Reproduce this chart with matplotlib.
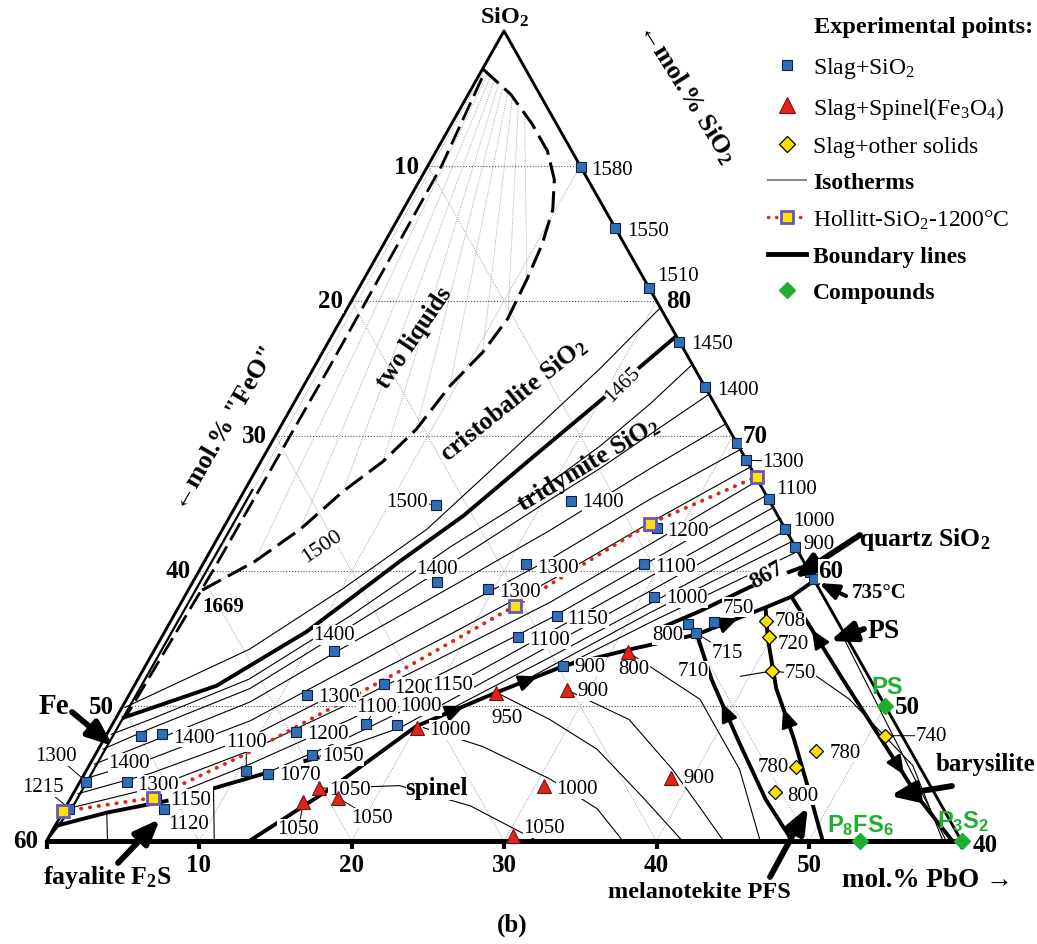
import numpy as np
import matplotlib.pyplot as plt
from matplotlib.lines import Line2D

plt.rcParams['font.family'] = 'Liberation Serif'
plt.rcParams['mathtext.fontset'] = 'custom'
plt.rcParams['mathtext.rm'] = 'Liberation Serif'
plt.rcParams['mathtext.it'] = 'Liberation Serif:italic'
plt.rcParams['mathtext.bf'] = 'Liberation Serif:bold'
plt.rcParams['mathtext.sf'] = 'Liberation Sans:bold'

# compositions are (mol.% PbO, mol.% SiO2); "FeO" is the balance

# --- experimental points ---
sio2_pts = [(10.1, 89.9), (14.6, 85.4), (19.0, 81.0), (23.0, 77.0), (26.4, 73.6),
            (30.5, 69.5), (31.8, 68.2), (34.7, 65.3), (36.9, 63.1), (38.2, 61.8),
            (40.1, 59.9), (40.6, 59.4), (13.1, 64.9), (21.8, 65.2), (28.4, 63.2),
            (21.2, 60.5), (28.9, 60.5), (16.0, 59.2), (19.6, 58.7), (30.8, 58.1),
            (25.1, 56.7), (23.4, 55.1), (27.4, 53.0), (34.0, 56.1), (35.7, 56.2),
            (34.9, 55.4), (11.8, 54.1), (11.7, 50.8), (16.3, 51.6), (12.3, 48.1),
            (16.6, 48.7), (18.7, 48.6), (14.2, 46.4), (12.0, 45.0), (10.5, 45.2),
            (2.3, 47.8), (3.6, 47.9), (0.4, 44.4), (3.1, 44.4), (0.3, 42.4),
            (5.6, 43.1), (6.5, 42.4)]
sio2_temps = ['1580', '1550', '1510', '1450', '1400', '', '1300', '1100', '1000', '900',
              '', '', '1500', '1400', '1200', '1300', '1100', '1400', '1300', '1000',
              '1150', '1100', '900', '800', '750', '715', '1400', '1300', '1200', '1200',
              '1100', '1000', '1050', '1070', '1100', '', '1400', '1300', '1300', '1215',
              '1150', '1120']

spinel_pts = [(31.1, 54.0), (28.5, 51.2), (24.0, 51.0), (20.1, 48.4), (15.9, 43.9),
              (17.5, 43.2), (15.4, 42.9), (30.6, 44.1), (38.6, 44.7), (30.4, 40.4)]
spinel_temps = ['800', '900', '950', '1000', '1050', '1050', '1050', '1000', '900', '1050']

other_pts = [(39.0, 56.3), (39.8, 55.1), (41.3, 52.6), (51.1, 47.8), (47.1, 46.7),
             (46.4, 45.5), (46.0, 43.6)]
other_temps = ['708', '720', '750', '740', '780', '780', '800']

hollitt_pts = [(0.0, 42.2), (5.4, 43.2), (22.0, 57.4), (27.8, 63.5), (33.1, 67.0)]
hollitt_line = [(0.0, 42.2), (5.4, 43.2), (9.8, 46.4), (13.7, 49.8), (16.9, 52.6),
                (22.0, 57.4), (27.8, 63.5), (33.1, 67.0)]

compounds = [(50.0, 50.0), (53.33, 40.0), (60.0, 40.0)]
compound_names = ['PS', 'P$_\\mathsf{8}$FS$_\\mathsf{6}$', 'P$_\\mathsf{3}$S$_\\mathsf{2}$']

# --- boundary lines ---
fe_line = [(0.0, 40.0), (0.45, 42.5), (0.5, 66.0)]
trid_cris = [(0.4, 49.1), (5.4, 51.5), (9.3, 55.5), (12.8, 60.7), (15.3, 64.1),
             (17.6, 68.3), (20.0, 72.6), (22.6, 77.4)]
fayalite_bd = [(0.0, 41.1), (2.9, 42.1), (6.5, 43.0)]
bd_1070 = [(9.0, 43.9), (12.3, 45.2)]
bd_1050 = [(13.9, 45.9), (14.8, 46.2)]
spinel_bd = [(13.3, 40.0), (16.7, 43.9), (20.0, 48.5), (24.0, 51.0), (27.5, 53.0),
             (31.2, 54.2), (35.0, 55.3), (38.5, 57.3), (39.8, 58.1), (40.7, 59.3)]
quartz_bd = [(32.1, 55.6), (34.3, 57.0), (36.7, 58.8), (39.6, 60.4)]
pfs_left = [(35.0, 55.3), (37.6, 52.0), (41.5, 47.6), (45.6, 43.1), (48.9, 40.0)]
pfs_right = [(38.5, 57.3), (39.8, 55.0), (42.2, 51.3), (45.2, 47.6), (48.0, 43.9), (50.9, 40.0)]
ps_bd = [(39.8, 58.1), (46.2, 52.0), (50.9, 47.6), (55.7, 43.1), (59.4, 40.0)]

# two-liquid miscibility gap (dashed)
gap_outer = [(0.0, 97.2), (2.8, 95.3), (5.3, 93.1), (7.3, 91.1), (8.8, 89.0), (9.8, 86.8),
             (10.4, 84.2), (10.7, 81.6), (10.9, 78.7), (10.5, 76.2), (9.6, 73.7),
             (9.0, 70.5), (8.0, 68.1), (6.5, 65.9), (5.1, 63.1), (3.3, 60.7), (0.6, 58.3)]
gap_inner = [(0.3, 96.5), (0.9, 90.0), (1.0, 75.0), (0.9, 60.0), (0.6, 49.3)]
tie_top = [(0.2, 97.0), (0.5, 96.8), (0.8, 96.6), (1.2, 96.4), (1.6, 96.1),
           (2.0, 95.8), (2.5, 95.5), (3.0, 95.1), (3.6, 94.7), (4.3, 94.1)]
tie_bottom = [(0.6, 60.9), (3.3, 60.7), (5.1, 63.1), (6.5, 65.9), (8.0, 68.1),
              (9.0, 70.5), (9.6, 73.7), (10.5, 76.2), (10.9, 78.7), (10.7, 81.6)]

# --- isotherms ---
isotherms = [
    [(0.2, 49.9), (6.2, 54.2), (10.1, 58.7), (13.4, 63.1), (16.3, 69.4), (18.8, 75.0), (20.5, 79.5)],
    [(0.3, 47.9), (2.3, 49.0), (7.3, 52.0), (11.6, 56.7), (15.6, 61.8), (19.0, 65.5), (21.7, 69.3), (23.4, 72.4), (24.7, 75.3)],
    [(0.3, 46.8), (2.6, 48.3), (7.7, 51.3), (12.0, 55.9), (16.2, 60.5), (20.4, 65.3), (22.5, 67.6), (24.5, 70.1), (26.9, 73.1)],
    [(0.3, 45.7), (3.1, 47.3), (8.2, 50.3), (12.6, 54.6), (17.1, 58.8), (21.5, 63.0), (25.8, 67.6), (29.1, 70.9)],
    [(0.2, 44.6), (3.8, 46.1), (8.9, 48.9), (13.5, 52.9), (18.0, 56.9), (22.6, 60.9), (26.9, 65.3), (31.0, 69.0)],
    [(0.3, 43.5), (4.3, 45.0), (9.5, 47.7), (14.2, 51.5), (18.8, 55.3), (23.4, 59.3), (27.8, 63.6), (32.3, 67.7)],
    [(0.2, 42.4), (4.9, 43.9), (10.0, 46.7), (14.8, 50.2), (19.5, 53.9), (24.2, 57.7), (28.6, 62.0), (33.3, 66.7)],
    [(6.7, 43.5), (10.5, 45.7), (15.4, 49.0), (20.1, 52.7), (24.8, 56.5), (29.2, 60.7), (34.4, 65.6)],
    [(12.3, 45.3), (16.0, 47.7), (20.8, 51.4), (25.3, 55.5), (29.8, 59.6), (35.3, 64.7)],
    [(14.8, 46.3), (19.0, 48.4), (25.8, 54.5), (30.3, 58.5), (36.2, 63.9)],
    [(19.7, 48.1), (22.0, 50.1), (26.2, 53.6), (30.8, 57.6), (37.0, 63.0)],
    [(25.2, 51.7), (31.1, 56.9), (37.8, 62.2)],
    [(27.5, 53.0), (31.5, 56.2), (38.6, 61.5)],
    # spinel field
    [(15.9, 43.9), (21.1, 44.1), (26.5, 42.6), (32.2, 40.0)],
    [(20.5, 48.4), (25.1, 47.0), (30.7, 44.6), (34.9, 42.4), (37.8, 40.0)],
    [(24.0, 51.0), (28.5, 49.0), (32.7, 46.8), (37.4, 43.3), (41.7, 40.0)],
    [(28.5, 51.2), (33.7, 49.0), (38.4, 45.3), (41.7, 42.4), (44.4, 40.0)],
    [(31.3, 53.9), (37.6, 50.5), (42.8, 45.3), (46.8, 40.0)],
    # PbO-rich side and fayalite field
    [(39.4, 52.2), (41.3, 52.6), (44.4, 52.2), (47.4, 50.5), (50.9, 47.9), (54.0, 45.6), (58.7, 40.1)],
    [(44.6, 55.2), (59.0, 40.0)],
    [(2.9, 42.1), (4.0, 40.0)],
    [(9.0, 43.9), (11.0, 40.0)],
]

ticks = [10, 20, 30, 40, 50]

W, H = 1037, 945
BLUE, RED, YEL, GRN = '#2e6fb7', '#e0241a', '#ffe100', '#1fae2f'
TSIZE = 15


def tern(pbo, sio2):
    pbo = np.asarray(pbo, float)
    sio2 = np.asarray(sio2, float)
    return pbo + (sio2 - 40) / 2, sio2 - 40


def line(pts, **kw):
    p, s = zip(*pts)
    x, y = tern(p, s)
    ax.plot(x, y, **kw)


def fp(px, py):
    return (px, H - py)


def ftext(px, py, s, **kw):
    kw.setdefault('ha', 'center')
    kw.setdefault('va', 'center')
    fig.text(px / W, 1 - py / H, s, **kw)


def tlabel(pt, txt, dx, dy, ha='left', leader=False, size=TSIZE, z=6, **kw):
    x, y = tern(*pt)
    arrow = dict(arrowstyle='-', lw=0.7, color='k', shrinkA=0, shrinkB=4) if leader else None
    ax.annotate(txt, (x, y), xytext=(dx, dy), textcoords='offset pixels', ha=ha,
                va='center', fontsize=size, zorder=z, arrowprops=arrow,
                bbox=dict(fc='white', ec='none', pad=0.3), **kw)


def big_arrow(tail, head, lw=4.2, scale=20):
    ax.annotate('', xy=fp(*head), xytext=fp(*tail), xycoords='figure pixels',
                textcoords='figure pixels', zorder=8,
                arrowprops=dict(arrowstyle='-|>,head_length=0.75,head_width=0.3',
                                lw=lw, color='k', mutation_scale=scale, shrinkA=0, shrinkB=0))


def dir_arrow(pts, i, reverse=False):
    a, b = np.array(pts[i]), np.array(pts[i + 1])
    if reverse:
        a, b = b, a
    p0 = a + 0.45 * (b - a)
    p1 = a + 0.6 * (b - a)
    ax.annotate('', xy=tern(*p1), xytext=tern(*p0), zorder=5,
                arrowprops=dict(arrowstyle='-|>,head_length=0.8,head_width=0.35',
                                lw=2, color='k', mutation_scale=14, shrinkA=0, shrinkB=0))


fig = plt.figure(figsize=(W / 100, H / 100), dpi=100)
ax = fig.add_axes([0, 0, 1, 1])
ax.set_xlim(-46.5 / 15.25, (W - 46.5) / 15.25)
ax.set_ylim(-(H - 842) / 13.5, 842 / 13.5)
ax.axis('off')

# grid
for s in [50, 60, 70, 80, 90]:
    line([(0, s), (100 - s, s)], color='#555555', lw=0.8, ls=(0, (1, 1.6)), zorder=1)
for t in ticks:
    line([(t, 40), (t, 100 - t)], color='#a0a0a0', lw=0.7, ls=(0, (1, 1.3)), zorder=1)
    line([(60 - t, 40), (0, 100 - t)], color='#a0a0a0', lw=0.7, ls=(0, (1, 1.3)), zorder=1)
for a, b in zip(tie_top, tie_bottom):
    line([a, b], color='#909090', lw=0.6, ls=(0, (1, 1.5)), zorder=1)

# isotherms
for iso in isotherms:
    line(iso, color='k', lw=0.8, zorder=2)

# boundaries
for bd in [trid_cris, fayalite_bd, bd_1070, bd_1050, spinel_bd, quartz_bd,
           pfs_left, pfs_right, ps_bd]:
    line(bd, color='k', lw=2.8, zorder=3, solid_capstyle='butt')
line(fe_line, color='k', lw=1.6, zorder=3)
line(gap_outer, color='k', lw=2.2, ls=(0, (7, 2.6)), zorder=3)
line(gap_inner, color='k', lw=2.0, ls=(0, (7, 2.6)), zorder=3)

dir_arrow(spinel_bd, 2)
dir_arrow(spinel_bd, 3)
dir_arrow(spinel_bd, 6)
dir_arrow(pfs_left, 1, reverse=True)
dir_arrow(pfs_right, 2, reverse=True)
dir_arrow(ps_bd, 0, reverse=True)
dir_arrow(ps_bd, 2)

# triangle edges
line([(0, 40), (0, 100), (60, 40)], color='k', lw=2.1, zorder=4)
line([(0, 40), (60, 40)], color='k', lw=3.6, zorder=4, solid_capstyle='butt')
for t in [0] + ticks + [60]:
    x, y = tern(t, 40)
    ax.plot([x, x], [y, y - 0.6], color='k', lw=3, zorder=4, solid_capstyle='butt')

# Hollitt line
line(hollitt_line, color='#d42a20', lw=2.8, ls=(0, (0.1, 2.2)), dash_capstyle='round', zorder=4)

# temperature labels
sio2_offsets = [(10, -2, 'left'), (12, -2, 'left'), (8, 12, 'left'), (12, -2, 'left'),
                (12, -2, 'left'), None, (16, -1, 'left'), (8, 11, 'left'), (8, 9, 'left'),
                (8, 3, 'left'), None, None, (-8, 3, 'right'), (11, -1, 'left'),
                (11, -3, 'left'), (11, -3, 'left'), (12, -2, 'left'), (0, 13, 'center'),
                (11, -3, 'left'), (12, -1, 'left'), (11, -3, 'left'), (11, -2, 'left'),
                (11, -1, 'left'), (-4, -11, 'right'), (8, 15, 'left'), (15, -19, 'left'),
                (0, 16, 'center'), (11, -1, 'left'), (11, -3, 'left'), (11, -2, 'left'),
                (11, 17, 'center'), (24, 19, 'center'), (10, -1, 'left'), (12, -1, 'left'),
                (0, 29, 'center'), None, (12, -3, 'left'), (-9, 26, 'right'),
                (10, -3, 'left'), (-6, 22, 'right'), (15, 0, 'left'), (4, -15, 'left')]
sio2_leaders = {6, 12, 25, 30, 34, 37, 39}
for i, (pt, t, off) in enumerate(zip(sio2_pts, sio2_temps, sio2_offsets)):
    if t:
        tlabel(pt, t, off[0], off[1], off[2], leader=i in sio2_leaders)

spinel_offsets = [(6, -17, 'center'), (11, -1, 'left'), (11, -25, 'center'), (12, -2, 'left'),
                  (10, -1, 'left'), (13, -20, 'left'), (-5, -27, 'center'), (12, -3, 'left'),
                  (12, 0, 'left'), (10, 8, 'left')]
spinel_leaders = {5, 6}
for i, (pt, t, off) in enumerate(zip(spinel_pts, spinel_temps, spinel_offsets)):
    tlabel(pt, t, off[0], off[1], off[2], leader=i in spinel_leaders)

other_offsets = [(9, 0, 'left'), (9, -6, 'left'), (12, -2, 'left'), (30, 0, 'left'),
                 (14, -2, 'left'), (-7, 0, 'right'), (12, -3, 'left')]
for i, (pt, t, off) in enumerate(zip(other_pts, other_temps, other_offsets)):
    tlabel(pt, t, off[0], off[1], off[2], leader=(i == 3))

comp_offsets = [(2, 20), (1, 16), (2, 20)]
for pt, name, off in zip(compounds, compound_names, comp_offsets):
    x, y = tern(*pt)
    ax.annotate(name, (x, y), xytext=off, textcoords='offset pixels', ha='center',
                va='center', fontsize=17, color=GRN, family='Liberation Sans',
                weight='bold', zorder=6)

# markers
p, s = zip(*sio2_pts)
ax.plot(*tern(p, s), ls='none', marker='s', ms=6.5, mfc=BLUE, mec='#102040', mew=0.8, zorder=7)
p, s = zip(*hollitt_pts)
ax.plot(*tern(p, s), ls='none', marker='s', ms=9, mfc=YEL, mec='#6656bd', mew=2, zorder=7)
p, s = zip(*spinel_pts)
ax.plot(*tern(p, s), ls='none', marker='^', ms=10, mfc=RED, mec='#7a1010', mew=0.8, zorder=7)
p, s = zip(*other_pts)
ax.plot(*tern(p, s), ls='none', marker='D', ms=7.5, mfc=YEL, mec='k', mew=0.9, zorder=7)
p, s = zip(*compounds)
ax.plot(*tern(p, s), ls='none', marker='D', ms=8, mfc=GRN, mec=GRN, zorder=7, clip_on=False)

# axis tick labels (drawn above the arrows)
for t in ticks + [60]:
    tlabel((0, 100 - t), str(t), -21, 0, 'center', size=18, z=9, weight='bold')
for t in [80, 70, 60, 50]:
    tlabel((100 - t, t), str(t), 22, 0, 'center', size=18, z=9, weight='bold')
tlabel((60, 40), '40', 24, -4, 'center', size=18, z=9, weight='bold')
for t in ticks:
    tlabel((t, 40), str(t), 0, -24, 'center', size=18, z=9, weight='bold')

# region / axis texts
B = dict(weight='bold')
WB = dict(fc='white', ec='none', pad=0.4)
ftext(505, 17, 'SiO$_\\mathbf{2}$', fontsize=17.5, **B)
ftext(687, 93, '←mol.% SiO$_\\mathbf{2}$', fontsize=19, rotation=-58, **B)
ftext(225, 428, '←mol.% "FeO"', fontsize=19, rotation=60, **B)
ftext(414, 338, 'two liquids', fontsize=18, rotation=56, **B)
ftext(513, 400, 'cristobalite SiO$_\\mathbf{2}$', fontsize=18.5, rotation=39, **B)
ftext(588, 465, 'tridymite SiO$_\\mathbf{2}$', fontsize=18.5, rotation=31, **B)
ftext(623, 385, '1465', fontsize=15, rotation=45, bbox=WB)
ftext(322, 547, '1500', fontsize=16, rotation=34, bbox=WB)
ftext(223, 607, '1669', fontsize=15, **B)
ftext(767, 575, '867', fontsize=17, rotation=30, bbox=dict(fc='white', ec='none', pad=0.2), **B)
ftext(453, 686, '1150', fontsize=TSIZE, bbox=WB)
ftext(129, 764, '1400', fontsize=TSIZE, bbox=WB)
ftext(693, 672, '710', fontsize=TSIZE, bbox=WB)
ftext(54, 706, 'Fe', fontsize=21, **B)
ftext(107, 878, 'fayalite F$_\\mathbf{2}$S', fontsize=18.5, **B)
ftext(437, 789, 'spinel', fontsize=18, bbox=dict(fc='white', ec='none', pad=0.2), **B)
ftext(925, 540, 'quartz SiO$_\\mathbf{2}$', fontsize=18.5, **B)
ftext(879, 593, '735°C', fontsize=15, **B)
ftext(884, 632, 'PS', fontsize=20, **B)
ftext(986, 765, 'barysilite', fontsize=18, **B)
ftext(699, 893, 'melanotekite PFS', fontsize=17.5, **B)
ftext(928, 881, 'mol.% PbO →', fontsize=19.5, **B)
ftext(512, 925, '(b)', fontsize=18, **B)

big_arrow((72, 713), (113, 747))
big_arrow((118, 864), (160, 820))
big_arrow((860, 536), (794, 579))
big_arrow((846, 597), (819, 584), lw=3, scale=15)
big_arrow((864, 630), (830, 642))
big_arrow((952, 787), (890, 797))
big_arrow((770, 878), (808, 808))

# legend
handles = [
    Line2D([], [], ls='none', marker='s', ms=6.5, mfc=BLUE, mec='#102040', mew=0.8),
    Line2D([], [], ls='none', marker='^', ms=11, mfc=RED, mec='#7a1010', mew=0.8),
    Line2D([], [], ls='none', marker='D', ms=8, mfc=YEL, mec='k', mew=0.9),
    Line2D([], [], color='#888888', lw=1.5),
    Line2D([], [], color='#d42a20', lw=2.5, ls=(0, (0.1, 2.2)), dash_capstyle='round',
           marker='s', ms=8, mfc=YEL, mec='#6656bd', mew=2),
    Line2D([], [], color='k', lw=3.5),
    Line2D([], [], ls='none', marker='D', ms=8, mfc=GRN, mec=GRN),
]
labels = ['Slag+SiO$_\\mathrm{2}$', 'Slag+Spinel(Fe$_\\mathrm{3}$O$_\\mathrm{4}$)',
          'Slag+other solids', 'Isotherms', 'Hollitt-SiO$_\\mathrm{2}$-1200°C',
          'Boundary lines', 'Compounds']
leg = ax.legend(handles, labels, loc='upper left', bbox_to_anchor=(768 / W, 1 - 56 / H),
                bbox_transform=fig.transFigure, frameon=False, fontsize=17,
                handlelength=1.6, handletextpad=0.3, labelspacing=0.62,
                borderpad=0, borderaxespad=0, numpoints=1)
for i in (3, 5, 6):
    leg.get_texts()[i].set_weight('bold')
ftext(814, 27, 'Experimental points:', fontsize=17.5, ha='left', **B)

fig.savefig('out.png', dpi=100, facecolor='white')
